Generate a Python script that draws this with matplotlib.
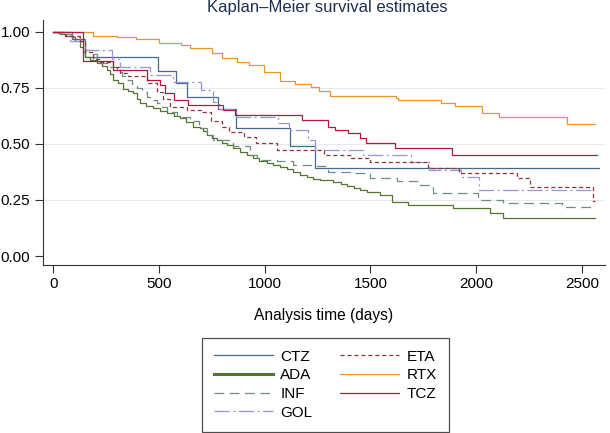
import matplotlib
matplotlib.use("Agg")
import matplotlib.pyplot as plt
from matplotlib.lines import Line2D

plt.rcParams['font.family'] = ['Liberation Sans', 'DejaVu Sans']
plt.rcParams['lines.scale_dashes'] = False

# Step points (days, survival), one pair of lists per drug
ctz_time = [0, 87, 150, 497, 580, 634, 780, 862, 1118, 1240, 2580]
ctz_surv = [1.0, 0.966, 0.886, 0.826, 0.77, 0.71, 0.655, 0.57, 0.488, 0.391, 0.391]

ada_time = [0, 20, 32, 60, 87, 105, 126, 140, 150, 175, 205, 230, 252, 270, 284, 305,
            331, 355, 378, 395, 410, 440, 473, 505, 536, 570, 599, 630, 662, 694, 710,
            725, 750, 773, 800, 820, 850, 883, 915, 946, 975, 1009, 1040, 1072, 1105,
            1136, 1165, 1199, 1230, 1262, 1325, 1360, 1388, 1420, 1451, 1482, 1545,
            1601, 1679, 1892, 2066, 2128, 2562]
ada_surv = [1.0, 0.995, 0.99, 0.982, 0.975, 0.96, 0.933, 0.91, 0.889, 0.875, 0.859,
            0.845, 0.829, 0.81, 0.785, 0.77, 0.743, 0.735, 0.725, 0.70, 0.681, 0.67,
            0.659, 0.648, 0.636, 0.625, 0.614, 0.595, 0.577, 0.57, 0.555, 0.54, 0.528,
            0.517, 0.505, 0.495, 0.48, 0.465, 0.45, 0.436, 0.425, 0.416, 0.406, 0.398,
            0.387, 0.376, 0.363, 0.351, 0.345, 0.339, 0.332, 0.322, 0.312, 0.302,
            0.295, 0.287, 0.272, 0.242, 0.228, 0.213, 0.19, 0.168, 0.168]

inf_time = [0, 40, 90, 126, 150, 175, 205, 221, 260, 300, 325, 347, 370, 394, 420, 442,
            465, 489, 510, 536, 583, 647, 690, 725, 757, 852, 930, 962, 1060, 1136,
            1245, 1300, 1403, 1498, 1624, 1735, 1797, 2010, 2129, 2405, 2553]
inf_surv = [1.0, 0.99, 0.975, 0.96, 0.92, 0.90, 0.88, 0.86, 0.84, 0.82, 0.80, 0.785,
            0.765, 0.748, 0.73, 0.71, 0.695, 0.681, 0.665, 0.643, 0.621, 0.60, 0.57,
            0.54, 0.517, 0.488, 0.45, 0.43, 0.425, 0.406, 0.40, 0.376, 0.369, 0.347,
            0.336, 0.317, 0.283, 0.25, 0.235, 0.218, 0.218]

gol_time = [0, 80, 150, 280, 315, 457, 567, 700, 755, 785, 865, 1065, 1115, 1205, 1240,
            1466, 1690, 1778, 1928, 2014, 2553]
gol_surv = [1.0, 0.96, 0.92, 0.88, 0.844, 0.807, 0.775, 0.74, 0.688, 0.655, 0.621,
            0.592, 0.562, 0.517, 0.473, 0.45, 0.42, 0.384, 0.354, 0.295, 0.295]

eta_time = [0, 55, 126, 150, 189, 221, 284, 315, 355, 442, 489, 520, 552, 631, 700, 745,
            800, 830, 900, 960, 1060, 1280, 1410, 1500, 1770, 1920, 2193, 2255, 2553, 2560]
eta_surv = [1.0, 0.98, 0.96, 0.91, 0.88, 0.866, 0.844, 0.815, 0.80, 0.77, 0.733, 0.70,
            0.666, 0.651, 0.643, 0.60, 0.577, 0.554, 0.532, 0.503, 0.473, 0.45, 0.435,
            0.42, 0.391, 0.368, 0.347, 0.309, 0.245, 0.245]

rtx_time = [0, 186, 300, 392, 502, 603, 649, 750, 796, 870, 925, 998, 1072, 1145, 1219,
            1255, 1311, 1623, 1632, 1835, 1900, 2028, 2110, 2432, 2561]
rtx_surv = [1.0, 0.98, 0.975, 0.965, 0.95, 0.94, 0.925, 0.905, 0.884, 0.865, 0.85,
            0.82, 0.78, 0.767, 0.751, 0.737, 0.714, 0.706, 0.696, 0.684, 0.669, 0.639,
            0.62, 0.588, 0.588]

tcz_time = [0, 139, 283, 442, 505, 528, 571, 639, 804, 860, 1175, 1301, 1333, 1395,
            1451, 1480, 1616, 1885, 2570]
tcz_surv = [1.0, 0.87, 0.829, 0.785, 0.762, 0.725, 0.696, 0.671, 0.651, 0.629, 0.607,
            0.577, 0.562, 0.547, 0.525, 0.503, 0.48, 0.45, 0.45]

labels = ["CTZ", "ADA", "INF", "GOL", "ETA", "RTX", "TCZ"]
colors = ["#46698c", "#55752f", "#6e8e84", "#9a94d6", "#90353b", "#e8952e", "#b3173f"]
dashes = [None, None, (7, 4), (11, 2.5, 1.5, 2.5), (3, 2), None, None]


def main():
    fig = plt.figure(figsize=(6.1, 4.33), dpi=100)
    ax = fig.add_axes([0.07, 0.388, 0.922, 0.566])

    series = [(ctz_time, ctz_surv), (ada_time, ada_surv), (inf_time, inf_surv),
              (gol_time, gol_surv), (eta_time, eta_surv), (rtx_time, rtx_surv),
              (tcz_time, tcz_surv)]

    # light horizontal grid like the Stata scheme
    for g in [0.25, 0.5, 0.75]:
        ax.axhline(g, color="#e4ebee", linewidth=0.8, zorder=0)

    handles = []
    for (t, s), lab, col, d in zip(series, labels, colors, dashes):
        line, = ax.step(t, s, where="post", color=col, linewidth=0.9)
        if d is not None:
            line.set_dashes(d)
        # legend handle (ADA drawn thicker in the reference legend)
        h = Line2D([], [], color=col, linewidth=2.2 if lab == "ADA" else 0.9)
        if d is not None:
            h.set_dashes(d)
        handles.append(h)

    ax.set_xlim(-50, 2610)
    ax.set_ylim(-0.04, 1.052)
    ax.set_xticks([0, 500, 1000, 1500, 2000, 2500])
    ax.set_yticks([0, 0.25, 0.5, 0.75, 1.0])
    ax.set_yticklabels(["0.00", "0.25", "0.50", "0.75", "1.00"])
    ax.tick_params(labelsize=11, length=6, width=0.8, color="#333333", pad=3)
    for side in ["top", "right"]:
        ax.spines[side].set_visible(False)
    for side in ["left", "bottom"]:
        ax.spines[side].set_color("#333333")
        ax.spines[side].set_linewidth(0.8)

    ax.set_xlabel("Analysis time (days)", fontsize=11.2, labelpad=12)
    fig.text(0.536, 0.982, "Kaplan\u2013Meier survival estimates", fontsize=12,
             color="#1e3050", ha="center", va="center")

    leg = fig.legend(handles=handles, labels=labels, ncol=2, loc="upper center",
                     bbox_to_anchor=(0.533, 0.238), fontsize=11, frameon=True,
                     fancybox=False, edgecolor="#222222", handlelength=3.9,
                     handletextpad=0.45, columnspacing=1.8, labelspacing=0.3,
                     borderpad=0.8)
    leg.get_frame().set_linewidth(0.9)

    fig.savefig("out.png", dpi=100, facecolor="white")
    plt.close(fig)


if __name__ == "__main__":
    main()
